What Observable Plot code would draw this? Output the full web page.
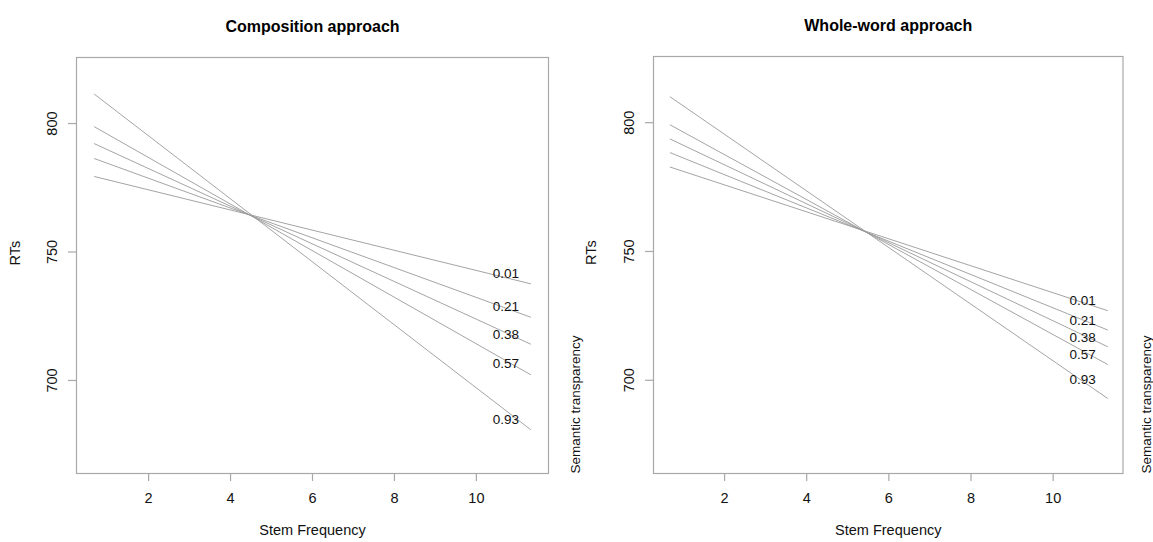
<!DOCTYPE html>
<html>
<head>
<meta charset="utf-8">
<script src="https://cdn.jsdelivr.net/npm/d3@7"></script>
<script src="https://cdn.jsdelivr.net/npm/@observablehq/plot@0.6"></script>
<style>
  body { margin: 0; background: #fff; }
  #wrap { display: flex; width: 1153px; height: 542px; overflow: hidden; }
  svg { overflow: visible; }
</style>
</head>
<body>
<div id="wrap"></div>
<script>
// ---- data ----
const levels = ["0.01", "0.21", "0.38", "0.57", "0.93"];
const xRange = [0.67, 11.33];           // stem frequency span of each line
const labelX = 10.72;                    // x position of level labels
const xTicks = [2, 4, 6, 8, 10];
const yTicks = [700, 750, 800];

const compStart = [779.4, 786.4, 792.2, 798.8, 811.5];
const compEnd   = [737.6, 724.6, 714.1, 702.2, 680.8];
const compLabelY = [741.6, 728.8, 717.9, 706.5, 684.8];

const wholeStart = [782.8, 788.4, 793.7, 799.2, 810.1];
const wholeEnd   = [727.0, 719.5, 713.0, 706.1, 692.9];
const wholeLabelY = [730.8, 723.3, 716.5, 710.0, 700.3];

const FONT = "'Liberation Sans', Arial, sans-serif";
const GRAY = "#a8a8a8";

function panel({title, start, end, labelY, width, mLeft, mRight, mTop, xDomain, stDx}) {
  const segs = levels.map((lv, i) => ({lv, x1: xRange[0], y1: start[i], x2: xRange[1], y2: end[i]}));
  const labs = levels.map((lv, i) => ({lv, x: labelX, y: labelY[i]}));
  return Plot.plot({
    width, height: 542,
    marginLeft: mLeft, marginRight: mRight, marginTop: mTop, marginBottom: 69,
    style: {fontFamily: FONT, background: "transparent", color: "#111", overflow: "visible"},
    x: {domain: xDomain},
    y: {domain: [663.8, 825.7]},
    marks: [
      Plot.frame({stroke: GRAY, strokeWidth: 1.2}),
      Plot.link(segs, {x1: "x1", y1: "y1", x2: "x2", y2: "y2", stroke: "#9a9a9a", strokeWidth: 0.9}),
      Plot.text(labs, {x: "x", y: "y", text: "lv", fontSize: 13.5, fill: "#111"}),
      Plot.axisX(xTicks, {tickSize: 8, stroke: GRAY, strokeWidth: 1.2, tickPadding: 11, fontSize: 14.5, fill: "#111", label: null}),
      Plot.axisY(yTicks, {tickSize: 8, stroke: GRAY, strokeWidth: 1.2, text: null, label: null}),
      Plot.text(yTicks, {y: d => d, text: d => String(d), frameAnchor: "left", rotate: -90, dx: -24, fontSize: 14.5, fill: "#111", textAnchor: "middle", lineAnchor: "middle"}),
      Plot.text([title], {text: d => d, frameAnchor: "top", dy: -37, fontSize: 16, fontWeight: "bold", fill: "#000"}),
      Plot.text(["Stem Frequency"], {text: d => d, frameAnchor: "bottom", dy: 61, fontSize: 14.5, fill: "#111"}),
      Plot.text(["RTs"], {text: d => d, frameAnchor: "left", rotate: -90, dx: -(mLeft - 15), fontSize: 14.5, fill: "#111"}),
      Plot.text(["Semantic transparency"], {text: d => d, frameAnchor: "bottom-right", rotate: -90, dx: stDx, textAnchor: "start", lineAnchor: "middle", fontSize: 13.5, fill: "#111"})
    ]
  });
}

const wrap = document.getElementById("wrap");
wrap.appendChild(panel({title: "Composition approach", start: compStart, end: compEnd, labelY: compLabelY,
  width: 576, mLeft: 76, mRight: 28, mTop: 57, xDomain: [0.24, 11.76], stDx: 27}));
wrap.appendChild(panel({title: "Whole-word approach", start: wholeStart, end: wholeEnd, labelY: wholeLabelY,
  width: 577, mLeft: 77, mRight: 30.5, mTop: 56, xDomain: [0.27, 11.70], stDx: 24}));
</script>
</body>
</html>
